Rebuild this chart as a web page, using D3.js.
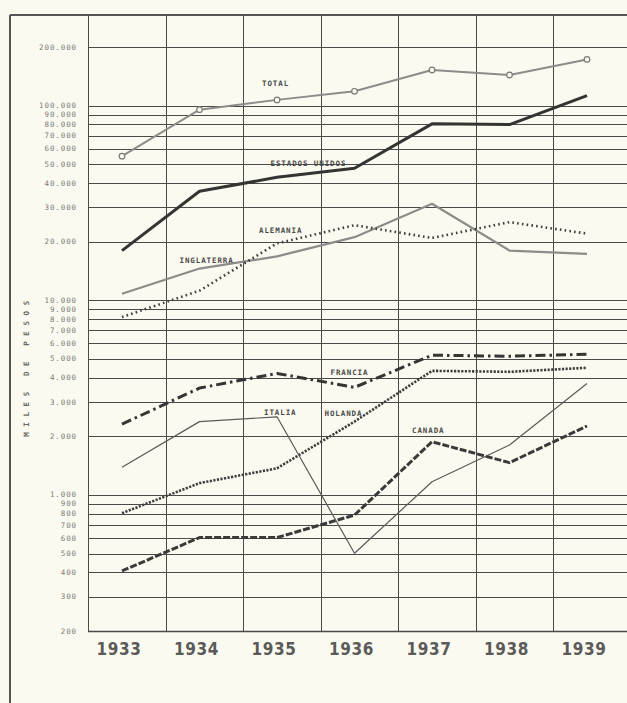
<!DOCTYPE html>
<html><head><meta charset="utf-8">
<script src="https://cdn.jsdelivr.net/npm/d3@7"></script>
<style>
html,body{margin:0;padding:0;background:#fbfaf1;}
svg{display:block;}
</style></head>
<body>
<script>
const years = [1933, 1934, 1935, 1936, 1937, 1938, 1939];
const total      = [55000, 95300, 107000, 118400, 152400, 143600, 172700];
const estados    = [18000, 36300, 42800, 47700, 80600, 79900, 112600];
const alemania   = [8200, 11200, 19600, 24300, 20900, 25200, 22000];
const inglaterra = [10800, 14550, 16800, 21100, 31300, 18000, 17300];
const francia    = [2310, 3540, 4210, 3570, 5220, 5160, 5280];
const holanda    = [806, 1150, 1370, 2380, 4340, 4290, 4500];
const canada     = [407, 604, 604, 788, 1876, 1465, 2260];
const italia     = [1386, 2380, 2520, 502, 1168, 1806, 3740];
const tickValues = [200000, 100000, 90000, 80000, 70000, 60000, 50000, 40000, 30000, 20000,
  10000, 9000, 8000, 7000, 6000, 5000, 4000, 3000, 2000, 1000, 900, 800, 700, 600, 500, 400, 300, 200];
const seriesNames = ["TOTAL", "ESTADOS UNIDOS", "ALEMANIA", "INGLATERRA", "FRANCIA", "ITALIA", "HOLANDA", "CANADA"];
const axisTitle = "MILES DE PESOS";

const W = 627, H = 703;
const svg = d3.select("body").append("svg").attr("width", W).attr("height", H);
svg.append("rect").attr("width", W).attr("height", H).attr("fill", "#fbfaf1");

const plotLeft = 88, plotTop = 15, plotBottom = 631;
const xb = d3.scaleBand().domain(years).range([plotLeft, plotLeft + 7 * 77.5]).padding(0);
const xp = d => xb(d) + 34;
const y = d3.scaleLog().domain([200, 200000]).range([plotBottom, 47]);

const grid = "#4a4a48";
// frame
svg.append("line").attr("x1", 10).attr("x2", 10).attr("y1", plotTop).attr("y2", H)
  .attr("stroke", "#555").attr("stroke-width", 2);
svg.append("line").attr("x1", 10).attr("x2", W).attr("y1", plotTop).attr("y2", plotTop)
  .attr("stroke", "#555").attr("stroke-width", 2);

// horizontal grid
svg.append("g").selectAll("line").data(tickValues).join("line")
  .attr("x1", plotLeft).attr("x2", W)
  .attr("y1", d => Math.round(y(d)) + 0.5).attr("y2", d => Math.round(y(d)) + 0.5)
  .attr("stroke", grid).attr("stroke-width", d => d === 200 ? 1.5 : 1);

// vertical grid
const vlines = [plotLeft].concat(years.slice(1).map(d => xb(d)));
svg.append("g").selectAll("line").data(vlines).join("line")
  .attr("x1", d => Math.round(d) + 0.5).attr("x2", d => Math.round(d) + 0.5)
  .attr("y1", plotTop).attr("y2", plotBottom)
  .attr("stroke", grid).attr("stroke-width", 1);

// y tick labels
const fmt = v => d3.format(",")(v).replace(/,/g, ".");
svg.append("g").selectAll("text").data(tickValues).join("text")
  .attr("x", 77).attr("y", d => y(d) + 2.5)
  .attr("text-anchor", "end")
  .attr("font-family", "DejaVu Sans Mono, monospace")
  .attr("font-size", 7.5).attr("letter-spacing", 0.9)
  .attr("fill", "#7a7a76")
  .text(fmt);

// axis title
svg.append("text")
  .attr("transform", "translate(29,366) rotate(-90)")
  .attr("text-anchor", "middle")
  .attr("font-family", "DejaVu Sans Mono, monospace")
  .attr("font-size", 7.5).attr("font-weight", "bold").attr("letter-spacing", 5.6)
  .attr("fill", "#6a6a66")
  .text(axisTitle);

// year labels
svg.append("g").selectAll("text").data(years).join("text")
  .attr("x", d => xb(d) + 31).attr("y", 655)
  .attr("text-anchor", "middle")
  .attr("font-family", "DejaVu Sans Condensed, DejaVu Sans, sans-serif")
  .attr("font-stretch", "condensed")
  .attr("font-size", 17).attr("font-weight", "bold").attr("letter-spacing", 0.6)
  .attr("fill", "#5a5a58")
  .text(d => d);

const series = [
  {name: seriesNames[0], values: total, color: "#8c8c88", width: 2, dash: null, lab: [2, -15, -14]},
  {name: seriesNames[1], values: estados, color: "#343432", width: 3, dash: null, lab: [3, -84, -2]},
  {name: seriesNames[3], values: inglaterra, color: "#8c8c88", width: 2.2, dash: null, lab: [1, -20, -6]},
  {name: seriesNames[2], values: alemania, color: "#3e3e3c", width: 2.6, dash: "1.6,3.2", lab: [2, -18, -10]},
  {name: seriesNames[4], values: francia, color: "#353533", width: 3, dash: "10,4,2.5,4", lab: [3, -24, -12]},
  {name: seriesNames[6], values: holanda, color: "#3e3e3c", width: 2.6, dash: "2.2,1.4", lab: [3, -30, -6]},
  {name: seriesNames[7], values: canada, color: "#3a3a38", width: 3, dash: "7,2", lab: [4, -20, -9]},
  {name: seriesNames[5], values: italia, color: "#5a5a58", width: 1.2, dash: null, lab: [2, -13, -2]}
];

const line = d3.line().x((d, i) => xp(years[i])).y(d => y(d));
series.forEach(s => {
  svg.append("path").datum(s.values)
    .attr("d", line).attr("fill", "none")
    .attr("stroke", s.color).attr("stroke-width", s.width)
    .attr("stroke-linejoin", "round")
    .attr("stroke-dasharray", s.dash);
});

// total markers
svg.append("g").selectAll("circle").data(total).join("circle")
  .attr("cx", (d, i) => xp(years[i])).attr("cy", d => y(d)).attr("r", 2.8)
  .attr("fill", "#fbfaf1").attr("stroke", "#7a7a76").attr("stroke-width", 1.2);

// series labels
series.forEach(s => {
  const i = s.lab[0];
  svg.append("text")
    .attr("x", xp(years[i]) + s.lab[1]).attr("y", y(s.values[i]) + s.lab[2])
    .attr("font-family", "DejaVu Sans Mono, monospace")
    .attr("font-size", 7.5).attr("font-weight", "bold").attr("letter-spacing", 0.9)
    .attr("fill", "#4a4a48")
    .text(s.name);
});
</script>
</body></html>
